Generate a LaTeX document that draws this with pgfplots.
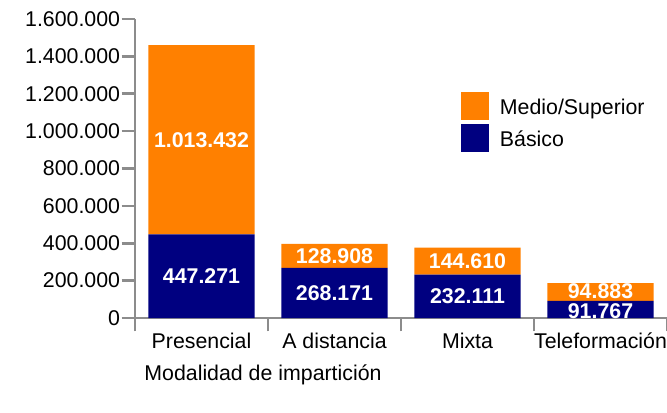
\documentclass[border=0pt]{standalone}
\usepackage{pgfplots}
\pgfplotsset{compat=1.18}
\usepackage{fontspec}
\setmainfont{Liberation Sans}
\definecolor{orangeM}{HTML}{FF8000}
\definecolor{navyB}{HTML}{000080}
\definecolor{axgray}{HTML}{8C8C8C}
\newcommand{\ff}{\fontsize{16}{19}\selectfont}
\begin{document}
\begin{tikzpicture}
\path[use as bounding box] (0,0) rectangle (500.25pt,309pt);
\begin{axis}[
  at={(101.25pt,70.5pt)}, anchor=south west,
  scale only axis, width=399pt, height=224.25pt,
  ybar stacked, bar width=0.8,
  xmin=-0.5, xmax=3.5, ymin=0, ymax=1600000,
  axis x line=bottom, axis y line=left,
  axis line style={-, draw=axgray, line width=2pt},
  tick style={draw=axgray, line width=2pt},
  tick align=outside, major tick length=10pt,
  xtick={-0.5,0.5,1.5,2.5,3.5}, xticklabels={},
  extra x ticks={0,1,2,3},
  extra x tick labels={Presencial, A distancia, Mixta, Teleformación},
  extra x tick style={tick style={draw=none}},
  ytick={0,200000,400000,600000,800000,1000000,1200000,1400000,1600000},
  scaled y ticks=false,
  ticklabel style={font=\ff, inner sep=1pt},
  yticklabel style={/pgf/number format/.cd, fixed, precision=0, 1000 sep={.}, assume math mode=true},
  xlabel={Modalidad de impartición},
  xlabel style={at={(axis description cs:0.2406,-0.19)}, anchor=center, font=\ff},
  legend style={at={(rel axis cs:0.6128,0.756)}, anchor=north west, draw=none, fill=none,
    font=\ff, inner sep=0pt, nodes={inner sep=0pt}, column sep=8pt, row sep=3pt},
  legend cell align=left,
  reverse legend,
  legend image code/.code={\fill[#1] (0pt,-9.5pt) rectangle (21pt,11.5pt);},
]
\addplot[fill=navyB, draw=none] coordinates {(0,447271) (1,268171) (2,232111) (3,91767)};
\addlegendentry{Básico}
\addplot[fill=orangeM, draw=none] coordinates {(0,1013432) (1,128908) (2,144610) (3,94883)};
\addlegendentry{Medio/Superior}
\end{axis}
\begin{axis}[
  at={(101.25pt,70.5pt)}, anchor=south west,
  scale only axis, width=399pt, height=224.25pt,
  xmin=-0.5, xmax=3.5, ymin=0, ymax=1600000,
  hide axis,
]
\addplot[only marks, mark=none, nodes near coords, point meta=explicit symbolic,
  nodes near coords align=center,
  nodes near coords style={font=\ff\bfseries, text=white, inner sep=0pt}]
  table[meta=lab] {
x y lab
0 223635 447.271
0 953987 1.013.432
1 134085 268.171
1 332625 128.908
2 116055 232.111
2 304416 144.610
3 38000 91.767
3 141000 94.883
};
\end{axis}
\end{tikzpicture}
\end{document}
